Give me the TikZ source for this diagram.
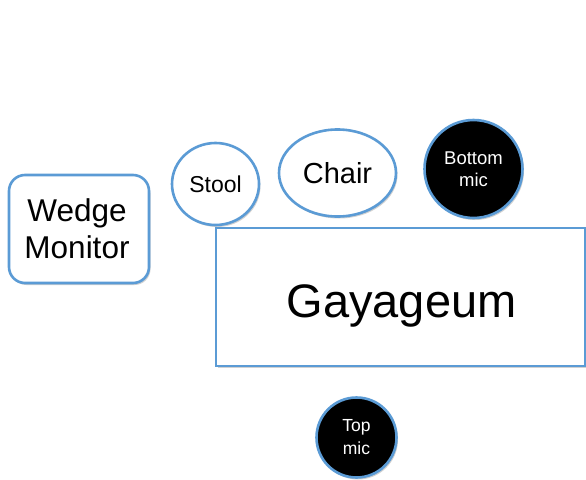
\documentclass[tikz,border=0pt]{standalone}
\usepackage{fontspec}
\setmainfont{Liberation Sans}
\usetikzlibrary{shapes.geometric,shadows}
\definecolor{edgeblue}{RGB}{91,155,213}
\begin{document}
\begin{tikzpicture}[x=1pt,y=-1pt,
  shapebase/.style={draw=edgeblue, line width=2.6pt, inner sep=0pt, align=center,
    drop shadow={shadow xshift=1.5pt, shadow yshift=-2pt, opacity=0.18, fill=black}},
  whiteshape/.style={shapebase, fill=white, text=black},
  blackshape/.style={shapebase, fill=black, text=white, circle},
]
\useasboundingbox (0,0) rectangle (586,479);
\node[whiteshape, rectangle, rounded corners=16pt, minimum width=140pt, minimum height=108pt,
  font=\fontsize{31.5}{37}\selectfont] (wedge) at (79,229) {Wedge\hspace*{4pt}\\Monitor\hspace*{4pt}};
\node[whiteshape, ellipse, minimum width=87pt, minimum height=82pt,
  font=\fontsize{23}{27}\selectfont] (stool) at (215.5,184) {Stool};
\node[whiteshape, ellipse, minimum width=117pt, minimum height=87pt,
  font=\fontsize{29}{34}\selectfont] (chair) at (337.5,173) {Chair};
\node[blackshape, minimum size=98pt, font=\fontsize{18.5}{22}\selectfont] (bmic) at (473.5,169) {Bottom\\mic};
\node[whiteshape, rectangle, line width=2pt, minimum width=369pt, minimum height=138pt] (gay) at (400.5,297) {};
\node[text=black, font=\fontsize{47}{56}\selectfont, inner sep=0pt, anchor=base] (gaytext) at (401.5,317) {Gayageum};
\node[blackshape, minimum size=80pt, font=\fontsize{17.5}{23}\selectfont] (tmic) at (356.5,437.5) {Top\\mic};
\end{tikzpicture}
\end{document}
